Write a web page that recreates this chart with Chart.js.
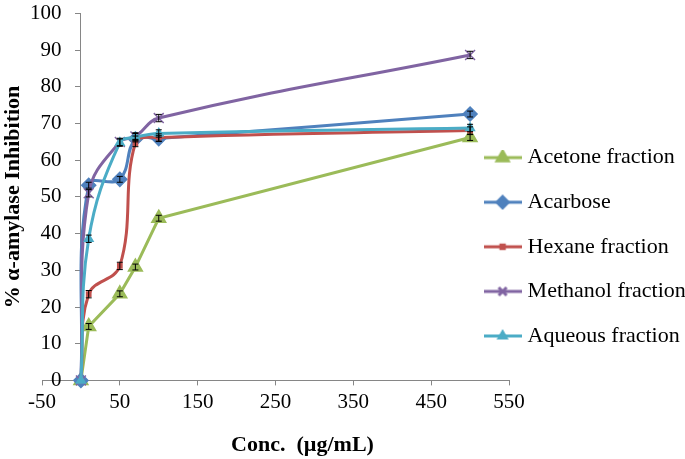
<!DOCTYPE html>
<html>
<head>
<meta charset="utf-8">
<script src="https://cdn.jsdelivr.net/npm/chart.js@4.4.0/dist/chart.umd.min.js"></script>
<style>
  html, body { margin: 0; padding: 0; background: #fff; }
</style>
</head>
<body>
<canvas id="dataChart" width="685" height="459"></canvas>
<script>
// concentrations (ug/mL) and tick labels
const conc = [0, 10, 50, 70, 100, 500];
const xTicks = [-50, 50, 150, 250, 350, 450, 550];

// % inhibition
const acetone  = [0, 14.7, 23.6, 30.9, 44.2, 66.2];
const acarbose = [0, 53.2, 54.8, 65.8, 65.9, 72.6];
const hexane   = [0, 23.5, 31.2, 64.7, 66.2, 68.1];
const methanol = [0, 51.0, 65.0, 66.5, 71.5, 88.7];
const aqueous  = [0, 38.6, 64.8, 66.3, 67.3, 68.8];

// error bars (+/-)
const acetoneErr  = [0, 0.8, 0.8, 0.8, 0.8, 0.8];
const acarboseErr = [0, 0.8, 0.8, 0.8, 0.8, 0.8];
const hexaneErr   = [0, 1.0, 1.0, 1.0, 1.0, 1.0];
const methanolErr = [0, 1.0, 1.0, 1.0, 1.0, 1.0];
const aqueousErr  = [0, 1.0, 1.0, 1.0, 1.0, 1.0];

const font = 'Liberation Serif';
const axisGrey = '#868686';

// small line + marker picture for the legend
function legendIcon(color, style, radius) {
    const c = document.createElement('canvas');
    c.width = 38; c.height = 16;
    const g = c.getContext('2d');
    g.strokeStyle = color;
    g.fillStyle = color;
    g.lineWidth = 3;
    g.beginPath(); g.moveTo(0, 8); g.lineTo(38, 8); g.stroke();
    Chart.helpers.drawPoint(g, {pointStyle: style, radius: radius, borderWidth: 1.5}, 19, 8);
    return c;
}

function series(label, data, errors, color, style, radius, tension, order) {
    return {
        label: label,
        data: data.map((v, i) => ({x: conc[i], y: v})),
        errors: errors,
        borderColor: color,
        backgroundColor: color,
        borderWidth: 3,
        pointStyle: style,
        pointRadius: radius,
        pointBorderWidth: 1.5,
        pointBackgroundColor: color,
        pointBorderColor: color,
        tension: tension,
        clip: false,
        order: order,
        icon: legendIcon(color, style, radius * 0.8)
    };
}

// black error whiskers
const errorBars = {
    id: 'errorBars',
    afterDatasetsDraw(chart) {
        const {ctx, scales: {x, y}} = chart;
        ctx.save();
        ctx.strokeStyle = '#000';
        ctx.lineWidth = 1;
        chart.data.datasets.forEach(ds => {
            ds.errors.forEach((e, j) => {
                if (!e) return;
                const px = x.getPixelForValue(conc[j]);
                const hi = y.getPixelForValue(ds.data[j].y + e);
                const lo = y.getPixelForValue(ds.data[j].y - e);
                ctx.beginPath();
                ctx.moveTo(px, hi); ctx.lineTo(px, lo);
                ctx.moveTo(px - 3, hi); ctx.lineTo(px + 3, hi);
                ctx.moveTo(px - 3, lo); ctx.lineTo(px + 3, lo);
                ctx.stroke();
            });
        });
        ctx.restore();
    }
};

// legend partly over the plot and x title off-centre, as in the excel figure
const nudge = {
    id: 'nudge',
    afterLayout(chart) {
        const lg = chart.legend;
        lg.left -= 43;
        lg.top = 124;
        const t = chart.scales.xTitle;
        t.left += 27; t.right += 27;
    }
};

const tickFont = {family: font, size: 21};
const titleFont = {family: font, size: 22, weight: 'bold'};

function createGraph() {
    const ctx = document.getElementById('dataChart').getContext('2d');
    new Chart(ctx, {
        type: 'line',
        data: {
            datasets: [
                series('Acetone fraction', acetone, acetoneErr, '#9BBB59', 'triangle', 8, 0, 5),
                series('Acarbose', acarbose, acarboseErr, '#4F81BD', 'rectRot', 7, 0.4, 4),
                series('Hexane fraction', hexane, hexaneErr, '#C0504D', 'rect', 3, 0.4, 3),
                series('Methanol fraction', methanol, methanolErr, '#8064A2', 'crossRot', 7, 0.4, 2),
                series('Aqueous fraction', aqueous, aqueousErr, '#4BACC6', 'triangle', 5, 0.4, 1)
            ]
        },
        options: {
            responsive: false,
            animation: false,
            layout: {padding: {left: 0, right: 0, top: 0, bottom: 0}},
            scales: {
                x: {
                    type: 'linear',
                    min: -50,
                    max: 550,
                    afterBuildTicks: s => { s.ticks = xTicks.map(v => ({value: v})); },
                    ticks: {color: '#000', font: tickFont, padding: 4},
                    grid: {drawOnChartArea: false, tickLength: 5, color: axisGrey},
                    border: {color: axisGrey}
                },
                y: {
                    min: 0,
                    max: 100,
                    position: {x: 0},
                    ticks: {stepSize: 10, display: false},
                    grid: {drawOnChartArea: false, tickLength: 5, color: axisGrey},
                    border: {color: axisGrey}
                },
                yLabels: {
                    type: 'linear',
                    min: 0,
                    max: 100,
                    position: {x: -25},
                    ticks: {stepSize: 10, color: '#000', font: {family: font, size: 21, lineHeight: 1}},
                    grid: {display: false},
                    border: {display: false}
                },
                yTitle: {
                    type: 'linear',
                    position: 'left',
                    ticks: {display: false},
                    grid: {display: false},
                    border: {display: false},
                    title: {
                        display: true,
                        text: '% α-amylase Inhibition',
                        color: '#000',
                        font: titleFont,
                        padding: {top: 0, bottom: 7.6}
                    }
                },
                xTitle: {
                    type: 'linear',
                    position: 'bottom',
                    weight: 1,
                    ticks: {display: false},
                    grid: {display: false},
                    border: {display: false},
                    title: {
                        display: true,
                        text: 'Conc.  (µg/mL)',
                        color: '#000',
                        font: titleFont,
                        padding: {top: 6, bottom: 0}
                    }
                }
            },
            plugins: {
                legend: {
                    position: 'right',
                    align: 'start',
                    maxWidth: 176,
                    labels: {
                        usePointStyle: true,
                        pointStyleWidth: 28,
                        boxHeight: 16,
                        padding: 22.6,
                        color: '#000',
                        font: {family: font, size: 22},
                        sort: (a, b) => a.datasetIndex - b.datasetIndex,
                        generateLabels: chart => Chart.defaults.plugins.legend.labels.generateLabels(chart)
                            .map(l => Object.assign(l, {pointStyle: chart.data.datasets[l.datasetIndex].icon}))
                    }
                },
                tooltip: {enabled: false}
            }
        },
        plugins: [errorBars, nudge]
    });
}

window.onload = createGraph;
</script>
</body>
</html>
